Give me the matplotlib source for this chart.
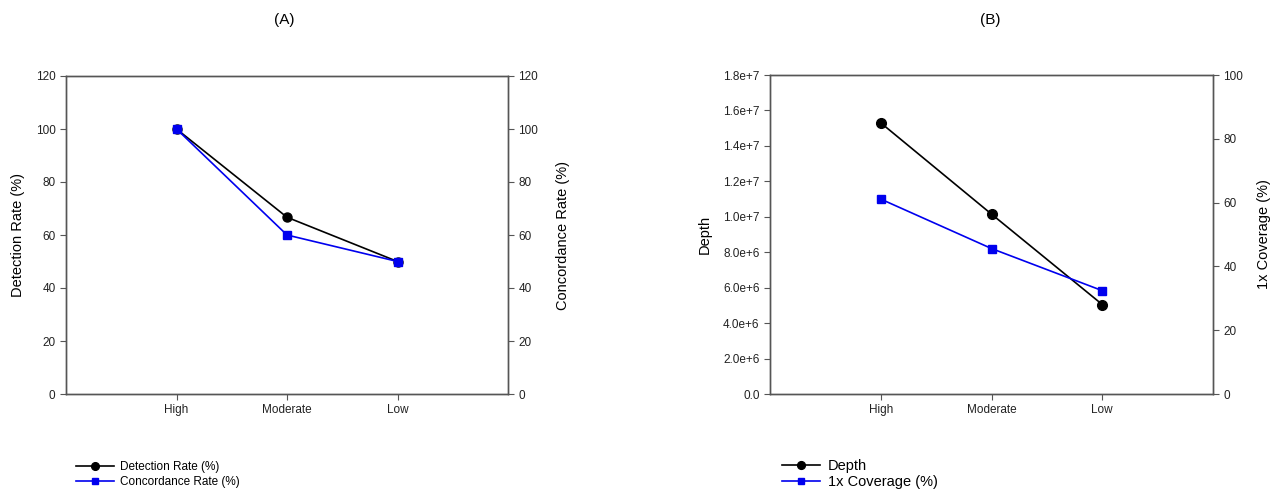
import numpy as np
import matplotlib.pyplot as plt
from matplotlib.ticker import FuncFormatter

plt.rcParams['font.family'] = ['Liberation Sans', 'DejaVu Sans']

levels = ['High', 'Moderate', 'Low']
detection = [100, 66.7, 50]
concordance = [100, 60, 50]
depth = [1.53e7, 1.015e7, 5.05e6]
coverage = [61.1, 45.6, 32.4]

W, H = 1277, 490
fig = plt.figure(figsize=(W/100, H/100), dpi=100)

def px_axes(x0, x1, y0, y1):
    return fig.add_axes([x0/W, 1 - y1/H, (x1-x0)/W, (y1-y0)/H])

def sci(v, pos):
    if v == 0:
        return '0.0'
    e = int(np.floor(np.log10(abs(v))))
    return f'{v/10**e:.1f}e+{e}'

x = np.arange(1, 4)
spine_col = '#555555'

def style(ax, twin):
    for a in (ax, twin):
        for s in a.spines.values():
            s.set_color(spine_col)
            s.set_linewidth(1.0)
        a.tick_params(direction='out', length=4, width=0.8, color=spine_col,
                      labelsize=8.5, labelcolor='#222222')
    ax.set_xlim(0, 4)
    ax.set_xticks(x)
    ax.set_xticklabels(levels)

# (A)
ax1 = px_axes(66, 508, 76, 394)
ax1b = ax1.twinx()
l1, = ax1.plot(x, detection, color='black', marker='o', markersize=6.5, lw=1.2,
               label='Detection Rate (%)', zorder=3)
l2, = ax1b.plot(x, concordance, color='#0000ee', marker='s', markersize=5.5, lw=1.2,
                label='Concordance Rate (%)', zorder=3)
ax1.set_ylim(0, 120)
ax1b.set_ylim(0, 120)
ax1.set_yticks(np.arange(0, 121, 20))
ax1b.set_yticks(np.arange(0, 121, 20))
style(ax1, ax1b)
ax1.set_ylabel('Detection Rate (%)', fontsize=10.5, labelpad=8)
ax1b.set_ylabel('Concordance Rate (%)', fontsize=10.5, labelpad=13)
fig.text(284/W, 1 - 20/H, '(A)', ha='center', va='center', fontsize=11)
fig.legend(handles=[l1, l2], loc='upper left', bbox_to_anchor=(70/W, 1 - 455/H),
           frameon=False, fontsize=8.5, handlelength=3.2, labelspacing=0.3,
           handletextpad=0.5, borderpad=0, markerscale=0.85)

# (B)
ax2 = px_axes(770, 1213, 75, 394)
ax2b = ax2.twinx()
l3, = ax2.plot(x, depth, color='black', marker='o', markersize=7, lw=1.2,
               label='Depth', zorder=3)
l4, = ax2b.plot(x, coverage, color='#0000ee', marker='s', markersize=6, lw=1.2,
                label='1x Coverage (%)', zorder=3)
ax2.set_ylim(0, 1.8e7)
ax2.set_yticks(np.arange(0, 1.8e7 + 1, 2e6))
ax2.yaxis.set_major_formatter(FuncFormatter(sci))
ax2b.set_ylim(0, 100)
ax2b.set_yticks(np.arange(0, 101, 20))
style(ax2, ax2b)
ax2.set_ylabel('Depth', fontsize=10.5, labelpad=8)
ax2b.set_ylabel('1x Coverage (%)', fontsize=10.5, labelpad=10)
fig.text(990/W, 1 - 20/H, '(B)', ha='center', va='center', fontsize=11)
fig.legend(handles=[l3, l4], loc='upper left', bbox_to_anchor=(775/W, 1 - 452/H),
           frameon=False, fontsize=10.5, handlelength=2.6, labelspacing=0.1,
           handletextpad=0.5, borderpad=0, markerscale=0.8)

fig.savefig('out.png', dpi=100)
